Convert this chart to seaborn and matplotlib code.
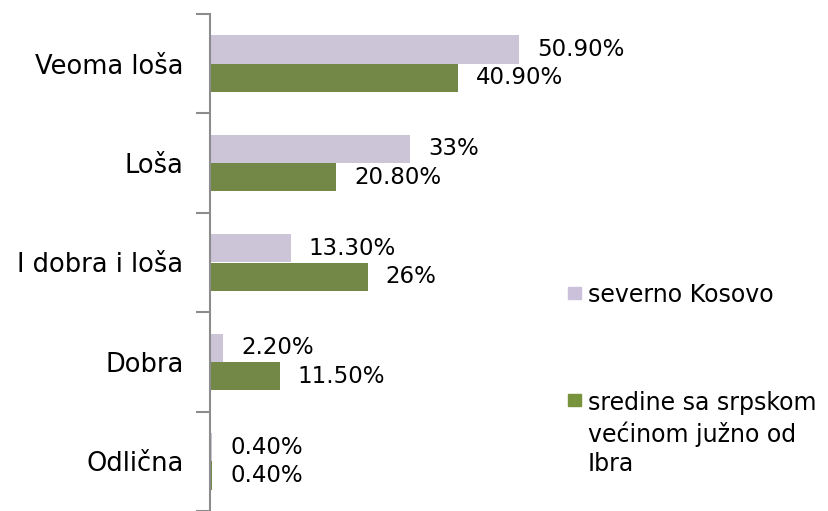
import pandas as pd
import matplotlib.pyplot as plt
from matplotlib.patches import Rectangle
import seaborn as sns

# data
categories = ["Veoma loša", "Loša", "I dobra i loša", "Dobra", "Odlična"]
series_names = ["severno Kosovo", "sredine sa srpskom većinom južno od Ibra"]
north = [50.9, 33.0, 13.3, 2.2, 0.4]
south = [40.9, 20.8, 26.0, 11.5, 0.4]
north_labels = ["50.90%", "33%", "13.30%", "2.20%", "0.40%"]
south_labels = ["40.90%", "20.80%", "26%", "11.50%", "0.40%"]
colors = ["#CCC1DA", "#77933C"]

df = pd.DataFrame({
    "category": categories * 2,
    "value": north + south,
    "series": [series_names[0]] * 5 + [series_names[1]] * 5,
})

sns.set_style("white")
plt.rcParams["font.family"] = ["DejaVu Sans"]
plt.rcParams["text.color"] = "black"
plt.rcParams["ytick.color"] = "black"

fig = plt.figure(figsize=(8.29, 5.11), dpi=100)
ax = fig.add_axes([210 / 829, 0.0, 364 / 829, 1 - 14 / 511])

sns.barplot(data=df, x="value", y="category", hue="series", order=categories,
            hue_order=series_names, palette=colors, width=0.57, gap=0,
            orient="h", ax=ax, legend=False, linewidth=0, edgecolor="none")

for cont, labs in zip(ax.containers, [north_labels, south_labels]):
    ax.bar_label(cont, labels=labs, padding=13, fontsize=16.5, color="black")

ax.set_xlim(0, 60)
ax.set_ylim(4.5, -0.5)
ax.set_xlabel("")
ax.set_ylabel("")
ax.set_xticks([])
ax.tick_params(axis="y", which="major", length=0, labelsize=18.5, pad=19,
               labelcolor="black")
ax.set_yticks([i - 0.5 for i in range(len(categories) + 1)], minor=True)
ax.tick_params(axis="y", which="minor", left=True, length=10, width=1.5,
               color="#8c8c8c")
for s in ["top", "right", "bottom"]:
    ax.spines[s].set_visible(False)
ax.spines["left"].set_color("#8c8c8c")
ax.spines["left"].set_linewidth(1.5)

# legend drawn to match the reference layout
fig.patches.append(Rectangle((568 / 829, 1 - 299 / 511), 13 / 829, 12 / 511,
                             transform=fig.transFigure, color=colors[0]))
fig.text(588 / 829, 1 - 295 / 511, "severno Kosovo", fontsize=17, va="center")
fig.patches.append(Rectangle((568 / 829, 1 - 406 / 511), 13 / 829, 12 / 511,
                             transform=fig.transFigure, color=colors[1]))
fig.text(588 / 829, 1 - 391 / 511, "sredine sa srpskom\nvećinom južno od\nIbra",
         fontsize=17, va="top", linespacing=1.3)

fig.savefig("out.png", dpi=100)
